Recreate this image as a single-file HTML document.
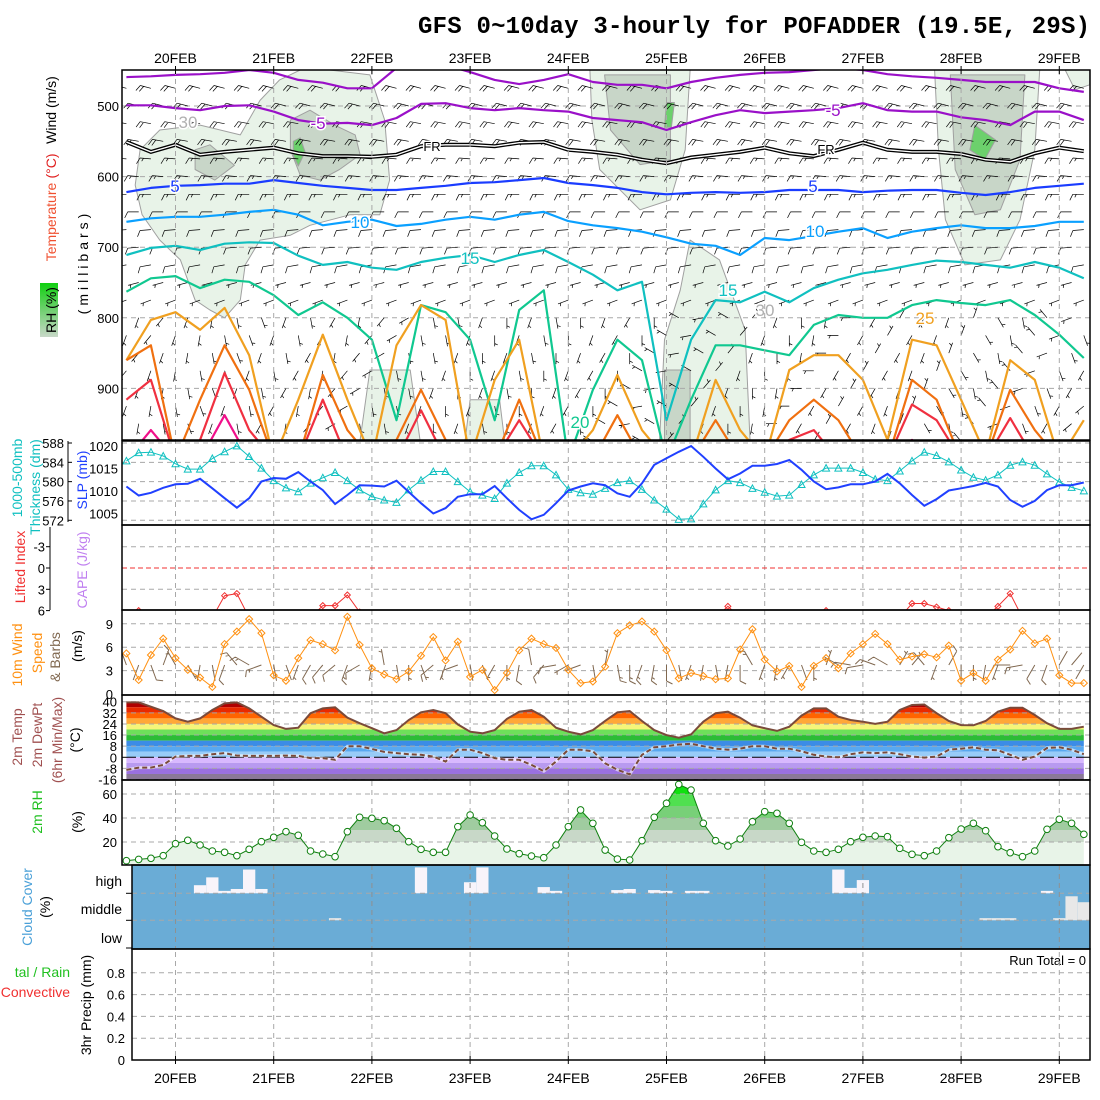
<!DOCTYPE html>
<html><head><meta charset="utf-8"><title>GFS meteogram POFADDER</title>
<style>
html,body{margin:0;padding:0;background:#fff;}
svg{display:block;}
text{font-family:"Liberation Sans",sans-serif;}
</style></head>
<body>
<svg id="chart" width="1100" height="1100" viewBox="0 0 1100 1100" xmlns="http://www.w3.org/2000/svg">
<defs>
<clipPath id="c1"><rect x="122" y="70" width="968" height="370"/></clipPath>
<clipPath id="c2"><rect x="122" y="441" width="968" height="84"/></clipPath>
<clipPath id="c3"><rect x="122" y="525" width="968" height="85"/></clipPath>
<clipPath id="c4"><rect x="122" y="610" width="968" height="85"/></clipPath>
<clipPath id="c5"><rect x="122" y="695" width="968" height="85"/></clipPath>
<clipPath id="c6"><rect x="122" y="780" width="968" height="85"/></clipPath>
<clipPath id="c8"><rect x="132" y="949" width="958" height="111"/></clipPath>
<linearGradient id="rhg" x1="0" y1="1" x2="0" y2="0"><stop offset="0" stop-color="#c8d8c8"/><stop offset="0.5" stop-color="#70d070"/><stop offset="1" stop-color="#10d010"/></linearGradient>
</defs>
<rect x="0" y="0" width="1100" height="1100" fill="#fff"/>
<text x="418" y="33" font-family="Liberation Mono, monospace" font-weight="bold" font-size="24" textLength="672" style="font-family:'Liberation Mono',monospace">GFS 0~10day 3-hourly for POFADDER (19.5E, 29S)</text>

<rect x="40" y="283" width="18" height="54" fill="url(#rhg)"/>
<text transform="translate(56,310) rotate(-90)" text-anchor="middle" font-size="14" fill="#000">RH (%)</text>
<text transform="translate(56,222) rotate(-90)" text-anchor="middle" font-size="14" fill="#f05030">Temperature</text>
<text transform="translate(56,166) rotate(-90)" text-anchor="middle" font-size="14" fill="#e02020">(°C)</text>
<text transform="translate(56,110) rotate(-90)" text-anchor="middle" font-size="14" fill="#000">Wind (m/s)</text>
<text transform="translate(88,262) rotate(-90)" text-anchor="middle" font-size="14" letter-spacing="4" fill="#000">(millibars)</text>
<text transform="translate(22,478) rotate(-90)" text-anchor="middle" font-size="14" fill="#10c0c0">1000-500mb</text>
<text transform="translate(40,487) rotate(-90)" text-anchor="middle" font-size="14" fill="#10c0c0">Thickness (dm)</text>
<text transform="translate(87,480) rotate(-90)" text-anchor="middle" font-size="14" fill="#2040ff">SLP (mb)</text>
<text transform="translate(25,567) rotate(-90)" text-anchor="middle" font-size="14" fill="#f03030">Lifted Index</text>
<text transform="translate(87,570) rotate(-90)" text-anchor="middle" font-size="14" fill="#c080f0">CAPE (J/kg)</text>
<text transform="translate(22,655) rotate(-90)" text-anchor="middle" font-size="14" fill="#ff9010">10m Wind</text>
<text transform="translate(42,653) rotate(-90)" text-anchor="middle" font-size="14" fill="#ff9010">Speed</text>
<text transform="translate(60,657) rotate(-90)" text-anchor="middle" font-size="14" fill="#806850">&amp; Barbs</text>
<text transform="translate(82,646) rotate(-90)" text-anchor="middle" font-size="14" fill="#000">(m/s)</text>
<text transform="translate(22,737) rotate(-90)" text-anchor="middle" font-size="14" fill="#a05050">2m Temp</text>
<text transform="translate(42,735) rotate(-90)" text-anchor="middle" font-size="14" fill="#a05050">2m DewPt</text>
<text transform="translate(62,740) rotate(-90)" text-anchor="middle" font-size="14" fill="#a05050">(6hr Min/Max)</text>
<text transform="translate(80,740) rotate(-90)" text-anchor="middle" font-size="14" fill="#000">(°C)</text>
<text transform="translate(42,812) rotate(-90)" text-anchor="middle" font-size="14" fill="#20c020">2m RH</text>
<text transform="translate(82,822) rotate(-90)" text-anchor="middle" font-size="14" fill="#000">(%)</text>
<text transform="translate(32,907) rotate(-90)" text-anchor="middle" font-size="14" fill="#4aa0d8">Cloud Cover</text>
<text transform="translate(50,907) rotate(-90)" text-anchor="middle" font-size="14" fill="#000">(%)</text>
<text x="122" y="886" text-anchor="end" font-size="14">high</text>
<text x="122" y="914" text-anchor="end" font-size="14">middle</text>
<text x="122" y="943" text-anchor="end" font-size="14">low</text>
<text x="70" y="977" text-anchor="end" font-size="14" fill="#20c020">tal / Rain</text>
<text x="70" y="997" text-anchor="end" font-size="14" fill="#f03030">Convective</text>
<text transform="translate(91,1005) rotate(-90)" text-anchor="middle" font-size="14" fill="#000">3hr Precip (mm)</text>
<text x="1086" y="965" text-anchor="end" font-size="13">Run Total = 0</text>
</svg>
<script>
const tStart = -0.5;
const tStep = 0.125;
const dayLabels = ['20FEB','21FEB','22FEB','23FEB','24FEB','25FEB','26FEB','27FEB','28FEB','29FEB'];
const pressureTicks = [500,600,700,800,900];
const thicknessTicks = [588,584,580,576,572];
const slpTicks = [1020,1015,1010,1005];
const liTicks = [-3,0,3,6];
const windTicks = [0,3,6,9];
const tempTicks = [40,32,24,16,8,0,-8,-16];
const rhTicks = [20,40,60];
const precipTicks = [0,0.2,0.4,0.6,0.8];

const thickness = [584.3,586.0,586.1,585.3,583.7,582.6,582.6,584.8,586.2,587.4,585.2,582.8,580.2,578.7,577.9,579.7,580.8,581.9,580.2,578.3,576.9,576.2,575.7,578.3,580.3,582.1,582.1,580.0,577.9,577.2,576.5,579.7,581.9,583.3,583.3,581.4,578.4,577.7,577.4,578.6,579.8,580.2,578.4,576.2,574.3,572.2,572.3,575.4,578.3,580.2,579.8,578.6,577.8,577.0,577.2,579.4,581.4,582.8,582.8,582.8,581.9,580.5,580.2,582.2,584.3,586.1,585.4,584.1,582.4,580.9,580.3,581.4,583.4,584.1,583.4,581.6,579.9,578.8,578.1];
const slp = [1011.0,1009.0,1009.6,1010.7,1011.5,1011.6,1012.7,1010.6,1008.4,1006.3,1008.4,1012.1,1012.9,1012.7,1014.2,1012.1,1010.2,1007.1,1009.1,1011.3,1011.2,1011.0,1012.3,1009.8,1007.3,1005.0,1006.2,1008.7,1009.3,1009.3,1011.1,1008.4,1005.8,1003.7,1004.7,1007.3,1010.1,1011.0,1011.7,1011.3,1009.5,1008.7,1011.7,1015.8,1017.3,1018.7,1020.0,1017.6,1015.0,1012.6,1013.9,1015.6,1015.6,1016.0,1016.9,1014.7,1012.1,1010.4,1010.8,1011.5,1011.5,1012.1,1013.8,1011.7,1009.1,1006.7,1008.2,1010.1,1010.6,1011.1,1011.8,1011.0,1008.0,1006.5,1007.8,1010.2,1011.3,1011.3,1011.9];
const liftedIndex = [9,6.0,9,9,9,9,9,7,3.9,3.6,7,9,9,9,9,7,5.3,5.3,3.8,6.2,9,9,9,9,9,9,9,9,9,9,9,9,9,9,9,9,9,9,9,9,9,9,9,9,9,9,9,9,7,5.4,7,9,9,9,9,9,9,6.0,9,9,9,9,9,7,5.0,5.0,5.5,6.0,9,9,7,5.4,3.6,7,9,9,9,9,9];
const windSpeed10m = [5.2,1.8,5.0,7.1,4.6,3.1,2.1,0.9,6.4,8.0,9.6,7.8,2.4,1.7,4.6,6.9,6.4,5.6,9.9,6.3,3.3,2.5,1.9,2.9,4.9,7.3,4.3,6.7,2.2,3.1,0.5,2.7,5.6,7.1,6.4,5.9,3.1,1.4,1.6,3.5,7.8,8.8,9.3,8.0,5.6,2.0,2.7,2.3,1.9,2.0,5.7,8.3,4.4,2.9,3.6,0.9,3.6,4.6,3.3,5.2,6.4,7.7,6.4,4.4,4.8,5.1,4.7,6.2,1.7,2.7,1.7,4.4,5.7,8.1,6.5,7.1,2.4,1.4,1.4];
const windDir10m = [340,200,160,20,330,150,190,170,200,320,300,250,170,160,200,210,220,230,200,240,190,350,170,180,160,230,200,250,170,160,210,180,190,350,220,260,240,250,170,10,170,180,200,190,180,170,200,190,170,190,180,330,200,190,210,160,180,20,300,280,260,290,300,30,40,320,200,30,180,180,190,200,270,260,210,200,30,40,210];
const temp2m = [39.5,39.5,36.4,33.3,28,25.6,28,34,38.8,39.5,35.2,29.2,23.2,20.4,21.3,31.7,35.2,36,28.5,24.5,20.9,17.3,19.6,26.8,32.4,34,31.7,23.7,18.4,17.3,19.6,27.6,32.8,34,29.2,21.3,18.4,16.5,19.6,26.2,32.4,33.3,26.1,19.6,16,14.1,16.5,25.6,31.7,32.8,28.5,23,20.9,19,22,30,35.2,35.2,29.2,26.8,25.6,24,25.6,34,37.6,38,31.7,26.1,23.2,23,26.1,32.8,35.7,35.7,30.4,24.5,20.4,20.4,22];
const dewpt2m = [-9.1,-7.4,-7.4,-5.5,0.5,1,1,2.2,3,1.2,1,1,1,1.2,1,-0.6,-0.6,-1.8,8,8,6,3.9,3,2.2,1.8,0.5,-3.1,5.5,5.5,3,-0.6,-1.8,-1.8,-5.5,-10,-3.1,5.5,5.5,4.3,-4.3,-9,-12.3,1.8,7.2,8,9.2,9.7,8,6.2,5.5,6.2,8,8,6.2,6.2,4.3,1.8,0.5,0,2.2,3.5,3,3.5,2.2,0.5,-0.2,0.5,5.5,6.2,7.2,5.5,5,1.8,-1.8,0.5,6.7,7.2,5.5,2.2];
const rh2m = [4.4,5.5,6.4,8.6,18.6,21.4,17.5,12.5,11.4,8.6,13.9,20.3,23.9,28.6,25.6,12.5,10,7.8,28.6,40.6,39.7,37.8,31.4,20.3,13.9,11.4,11.4,32.8,42.5,36.1,25,14.2,10.3,8.3,6.9,17.5,32.8,46.7,35.6,13.3,5.8,5,21.1,40.6,52.2,68,63.3,35.6,21.1,16.7,22.5,36.9,45.3,43.9,35.6,19.7,12.5,11.4,13.9,20.3,23.9,25,24.4,14.7,9.7,8.6,12.5,23.6,30.8,35.6,29.4,16.1,11.1,7.8,12.5,30.6,38.9,35.6,26.4];
const cloudHigh = [0,0,0,0,0,0,30,59,9,16,88,16,0,0,0,0,0,0,0,0,0,0,0,0,96,0,0,0,41,96,0,0,0,0,23,9,0,0,0,0,12,16,0,12,9,0,9,9,0,0,0,0,0,0,0,0,0,0,88,20,49,0,0,0,0,0,0,0,0,0,0,0,0,0,0,9,0,0,0];
const cloudMid = [0,0,0,0,0,0,0,0,0,0,0,0,0,0,0,0,0,8,0,0,0,0,0,0,0,0,0,0,0,0,0,0,0,0,0,0,0,0,0,0,0,0,0,0,0,0,0,0,0,0,0,0,0,0,0,0,0,0,0,0,0,0,0,0,0,0,0,0,0,0,8,8,8,0,0,0,8,89,67];
const cloudLow = [0,0,0,0,0,0,0,0,0,0,0,0,0,0,0,0,0,0,0,0,0,0,0,0,0,0,0,0,0,0,0,0,0,0,0,0,0,0,0,0,0,0,0,0,0,0,0,0,0,0,0,0,0,0,0,0,0,0,0,0,0,0,0,0,0,0,0,0,0,0,0,0,0,0,0,0,0,0,0];
const precip3h = [0,0,0,0,0,0,0,0,0,0,0,0,0,0,0,0,0,0,0,0,0,0,0,0,0,0,0,0,0,0,0,0,0,0,0,0,0,0,0,0,0,0,0,0,0,0,0,0,0,0,0,0,0,0,0,0,0,0,0,0,0,0,0,0,0,0,0,0,0,0,0,0,0,0,0,0,0,0,0];

const contourStep = 0.25;
const isoM10 = [459,458,456,455,453,449,453,463,467,475,475,446,442,442,452,463,469,463,455,466,470,470,475,466,460,456,453,452,449,446,449,455,458,460,463,466,466,466,475,480];
const isoM5 = [499,499,503,506,500,499,508,520,525,524,527,517,497,496,503,506,503,506,508,517,520,523,534,523,513,506,510,508,506,503,496,506,508,508,516,520,527,508,508,520];
const isoFR = [551,565,555,569,565,562,559,567,571,571,572,569,557,555,555,557,552,551,562,565,569,576,581,573,569,565,559,567,571,562,552,562,565,565,568,576,579,567,559,564];
const iso5 = [622,616,613,612,610,610,605,609,613,616,619,619,616,613,609,608,605,602,609,612,616,622,625,623,622,623,622,619,619,619,622,620,619,619,623,626,622,616,613,610];
const iso10 = [664,659,657,657,654,650,647,654,669,664,661,670,667,661,657,661,654,650,663,669,673,678,686,695,698,711,687,690,684,678,673,687,678,673,669,673,673,670,664,664];
const iso15 = [711,701,698,704,695,693,694,712,725,721,729,732,721,715,711,721,711,704,721,739,761,749,945,831,775,778,763,778,758,746,737,732,725,719,721,725,729,721,729,744];
const iso20 = [763,744,741,758,746,749,768,796,778,800,831,945,782,792,831,945,789,761,1001,902,831,860,1001,916,839,839,846,853,810,796,800,800,782,775,779,782,775,796,824,857];
const iso25 = [860,803,792,817,786,853,1001,916,824,916,1001,839,782,803,1001,888,831,1001,1001,959,881,959,1001,1001,888,959,1001,874,853,853,888,973,831,839,916,994,860,888,1001,945];
const iso30 = [860,839,1001,916,839,902,1001,1001,881,959,1001,973,902,973,1001,1001,916,1001,1001,1001,938,1001,1001,1001,945,1001,1001,945,916,945,1001,1001,888,916,1001,1001,902,959,1001,1001];
const iso35 = [916,888,1001,973,878,959,1001,1001,916,1001,1001,1001,931,1001,1001,1001,945,1001,1001,1001,1001,1001,1001,1001,1001,1001,1001,973,959,1001,1001,1001,923,945,1001,1001,942,1001,1001,1001];
const iso40 = [1001,959,1001,1001,938,1001,1001,1001,1001,1001,1001,1001,1001,1001,1001,1001,1001,1001,1001,1001,1001,1001,1001,1001,1001,1001,1001,1001,1001,1001,1001,1001,973,1001,1001,1001,1001,1001,1001,1001];

const barbLevels = [475,500,525,550,575,600,625,650,675,700,725,750,775,800,825,850,875,900,925,950,975];
const barbSpeed = [22,22,20,20,18,16,15,14,12,11,10,9,8,7,7,6,6,6,6,5,5];
const barbDir = [285,285,280,280,275,275,270,270,265,265,260,255,250,0,0,0,0,0,0,0,0];

const rhLight1 = [[-0.36,562],[-0.16,534],[0.25,527],[0.66,541],[0.86,492],[1.06,463],[1.27,449],[1.57,449],[1.98,456],[2.13,520],[2.18,605],[2.08,654],[1.78,654],[1.37,669],[1.17,683],[0.86,690],[0.71,725],[0.66,775],[0.5,800],[0.35,789],[0.2,775],[0.05,718],[-0.16,690],[-0.34,654],[-0.41,612]];
const rhLight2 = [[4.22,449],[5.24,449],[5.19,562],[5.04,633],[4.73,647],[4.32,590],[4.24,520]];
const rhLight3 = [[7.73,449],[8.8,449],[8.75,562],[8.6,661],[8.4,718],[8.04,725],[7.84,661],[7.77,562]];
const rhLight4 = [[5.24,690],[5.54,718],[5.8,817],[5.85,973],[4.93,973],[4.98,831],[5.14,761]];
const rhLight5 = [[9.06,449],[9.31,449],[9.31,470],[9.16,477]];
const rhLight6 = [[1.98,874],[2.39,874],[2.49,973],[1.88,973]];
const rhLight7 = [[3.0,916],[3.3,916],[3.35,973],[2.95,973]];
const rhDark1 = [[1.17,520],[1.37,506],[1.62,527],[1.83,541],[1.88,569],[1.67,590],[1.47,605],[1.27,598],[1.17,562]];
const rhDark2 = [[0.2,562],[0.35,555],[0.6,584],[0.4,605],[0.2,590]];
const rhDark3 = [[4.37,456],[5.04,456],[5.04,576],[4.73,583],[4.43,534]];
const rhDark4 = [[7.89,456],[8.65,456],[8.6,576],[8.4,647],[8.14,654],[7.94,590]];
const rhDark5 = [[4.98,874],[5.24,874],[5.24,973],[4.98,973]];
const rhWet1 = [[1.2,550],[1.27,545],[1.32,565],[1.25,585],[1.2,570]];
const rhWet2 = [[5.0,495],[5.08,495],[5.05,530],[4.98,530]];
const rhWet3 = [[8.14,527],[8.35,548],[8.24,576],[8.09,562]];

const NS = 'http://www.w3.org/2000/svg';
const svg = document.getElementById('chart');
function mk(tag, attrs, parent) {
  const e = document.createElementNS(NS, tag);
  for (const k in attrs) e.setAttribute(k, attrs[k]);
  (parent || svg).appendChild(e);
  return e;
}
const X = t => 175.5 + t * 98.2;
const tAt = i => tStart + i * tStep;
const tcAt = i => tStart + i * contourStep;
const yP = p => 106 + (p - 500) * 0.706;
const yThick = v => 443 + (588 - v) * 4.83;
const ySlp = v => 446 + (1020 - v) * 4.5;
const yLI = v => 568 + v * 7.1;
const yWind = v => 694 - v * 7.8;
const yTemp = v => 757.3 - v * 1.39;
const yRH = v => 866 - v * 1.2;
const yPrecip = v => 1060 - v * 109;
function pathOf(arr, yf, tf) {
  return arr.map((v, i) => (i ? 'L' : 'M') + X(tf(i)).toFixed(1) + ',' + yf(v).toFixed(1)).join('');
}
const GRID = '#a8a8a8';
function hGrid(g, y, x0) {
  const l = mk('line', {x1: x0 || 122, x2: 1090, y1: y, y2: y, stroke: GRID, 'stroke-dasharray': '5,4', 'stroke-width': 1}, g);
  
  
}

const g1 = mk('g', {'clip-path': 'url(#c1)'});


function blob(pts, fill, name) {
  const d = pts.map((q, i) => (i ? 'L' : 'M') + X(q[0]).toFixed(1) + ',' + yP(q[1]).toFixed(1)).join('') + 'Z';
  const b = mk('path', {d: d, fill: fill, stroke: '#a0a0a0', 'stroke-width': 1, 'stroke-linejoin': 'round'}, g1);
  
  
}
[rhLight1, rhLight2, rhLight3, rhLight4, rhLight5, rhLight6, rhLight7].forEach(b => blob(b, '#e8f3e8', 'rh-region-light'));
[rhDark1, rhDark2, rhDark3, rhDark4, rhDark5].forEach(b => blob(b, '#c8d6c8', 'rh-region-moist'));
[rhWet1, rhWet2, rhWet3].forEach(b => blob(b, '#6cd06c', 'rh-region-wet'));
pressureTicks.forEach(p => hGrid(g1, yP(p)));
for (let k = 0; k < dayLabels.length; k++) {
  const l = mk('line', {x1: X(k), x2: X(k), y1: 70, y2: 1060, stroke: GRID, 'stroke-dasharray': '5,4'}, svg);
  
  
}
function barbPath(x, y, dir, spd, len, fl) {
  const r = dir * Math.PI / 180, dx = Math.sin(r), dy = -Math.cos(r);
  const x2 = x + dx * len, y2 = y + dy * len;
  let d = 'M' + x.toFixed(1) + ',' + y.toFixed(1) + 'L' + x2.toFixed(1) + ',' + y2.toFixed(1);
  const px = dy, py = -dx;
  let full = Math.floor(spd / 10), half = (spd % 10) >= 5 ? 1 : 0, pos = 0;
  for (let k = 0; k < full; k++) {
    const bx = x2 - dx * pos, by = y2 - dy * pos;
    d += 'M' + bx.toFixed(1) + ',' + by.toFixed(1) + 'L' + (bx + px * fl + dx * 3).toFixed(1) + ',' + (by + py * fl + dy * 3).toFixed(1);
    pos += 3.5;
  }
  if (half) {
    if (full === 0) pos = 3;
    const bx = x2 - dx * pos, by = y2 - dy * pos;
    d += 'M' + bx.toFixed(1) + ',' + by.toFixed(1) + 'L' + (bx + px * fl * 0.5 + dx * 1.5).toFixed(1) + ',' + (by + py * fl * 0.5 + dy * 1.5).toFixed(1);
  }
  return d;
}
let ud = '';
for (let li = 0; li < barbLevels.length; li++) {
  for (let i = (li % 2); i < thickness.length; i += 2) {
    const dir = barbDir[li] || windDir10m[(i + li) % windDir10m.length];
    ud += barbPath(X(tAt(i)), yP(barbLevels[li]), dir, barbSpeed[li], 11, 6);
  }
}
const ub = mk('path', {d: ud, stroke: '#000', 'stroke-width': 0.7, fill: 'none'}, g1);


const isoSeries = [
  [isoM10, '#9a10c8', 'isotherm-minus10'], [isoM5, '#9a10c8', 'isotherm-minus5'],
  [iso5, '#1a3cff', 'isotherm-5'], [iso10, '#0aa0ff', 'isotherm-10'], [iso15, '#10c0c0', 'isotherm-15'],
  [iso20, '#10c890', 'isotherm-20'], [iso25, '#f0a020', 'isotherm-25'], [iso30, '#f07010', 'isotherm-30'],
  [iso35, '#f03040', 'isotherm-35'], [iso40, '#f0108a', 'isotherm-40']];
isoSeries.forEach(s => {
  const p = mk('path', {d: pathOf(s[0], yP, tcAt), stroke: s[1], 'stroke-width': 2.2, fill: 'none', 'stroke-linejoin': 'round'}, g1);
  
  
});
const fr1 = mk('path', {d: pathOf(isoFR, yP, tcAt), stroke: '#000', 'stroke-width': 4, fill: 'none'}, g1);


const fr2 = mk('path', {d: pathOf(isoFR, yP, tcAt), stroke: '#fff', 'stroke-width': 1.3, fill: 'none'}, g1);


const isoLabels = [['-5',318,129,'#9a10c8'],['-5',833,116,'#9a10c8'],['FR',432,151,'#000'],['FR',826,154,'#000'],['5',175,192,'#1a3cff'],['5',813,192,'#1a3cff'],['10',360,228,'#0aa0ff'],['10',815,237,'#0aa0ff'],['15',470,264,'#10c0c0'],['15',728,296,'#10c0c0'],['20',580,428,'#10c890'],['25',925,324,'#f0a020'],['30',188,128,'#b0b0b0'],['30',765,316,'#b0b0b0']];
isoLabels.forEach(l => {
  const t = mk('text', {x: l[1], y: l[2], fill: l[3], 'font-size': l[0] === 'FR' ? 13 : 17, 'text-anchor': 'middle', stroke: '#fff', 'stroke-width': 3, 'paint-order': 'stroke'}, g1);
  t.textContent = l[0];
  
  
});
pressureTicks.forEach(p => {
  const t = mk('text', {x: 119, y: yP(p) + 5, 'text-anchor': 'end', 'font-size': 13});
  t.textContent = p;
  
  
});
dayLabels.forEach((d, k) => {
  const t = mk('text', {x: X(k), y: 63, 'text-anchor': 'middle', 'font-size': 14});
  t.textContent = d;
  
  
  const b = mk('text', {x: X(k), y: 1083, 'text-anchor': 'middle', 'font-size': 14});
  b.textContent = d;
  
  
});

const g2 = mk('g', {'clip-path': 'url(#c2)'});


thicknessTicks.forEach(v => hGrid(g2, yThick(v)));
const thk = mk('path', {d: pathOf(thickness, yThick, tAt), stroke: '#10c0c0', 'stroke-width': 1, fill: 'none'}, g2);


thickness.forEach((v, i) => {
  const x = X(tAt(i)), y = yThick(v);
  const m = mk('path', {d: `M${x - 3.5},${y + 3}L${x},${y - 3.5}L${x + 3.5},${y + 3}Z`, stroke: '#10c0c0', fill: 'none', 'stroke-width': 1}, g2);
  
  
});
const sl = mk('path', {d: pathOf(slp, ySlp, tAt), stroke: '#2040ff', 'stroke-width': 2, fill: 'none'}, g2);


const ax2 = mk('line', {x1: 68, x2: 68, y1: 441, y2: 522, stroke: '#000'});


thicknessTicks.forEach(v => {
  const t = mk('text', {x: 64, y: yThick(v) + 5, 'text-anchor': 'end', 'font-size': 13});
  t.textContent = v;
  
  
  const tk = mk('line', {x1: 68, x2: 72, y1: yThick(v), y2: yThick(v), stroke: '#000'});
  
  
});
slpTicks.forEach(v => {
  const t = mk('text', {x: 118, y: ySlp(v) + 5, 'text-anchor': 'end', 'font-size': 13});
  t.textContent = v;
  
  
});

const g3 = mk('g', {'clip-path': 'url(#c3)'});


[-3, 3].forEach(v => hGrid(g3, yLI(v)));
const zl = mk('line', {x1: 122, x2: 1090, y1: yLI(0), y2: yLI(0), stroke: '#f03030', 'stroke-dasharray': '5,3'}, g3);


const lil = mk('path', {d: pathOf(liftedIndex, yLI, tAt), stroke: '#f03030', 'stroke-width': 1, fill: 'none'}, g3);


liftedIndex.forEach((v, i) => {
  if (v > 6.5) return;
  const x = X(tAt(i)), y = yLI(v);
  const m = mk('path', {d: `M${x},${y - 3}L${x + 3},${y}L${x},${y + 3}L${x - 3},${y}Z`, stroke: '#f03030', fill: 'none'}, g3);
  
  
});
const ax3 = mk('line', {x1: 50, x2: 50, y1: 527, y2: 610, stroke: '#000'});


liTicks.forEach(v => {
  const t = mk('text', {x: 45, y: yLI(v) + 5, 'text-anchor': 'end', 'font-size': 13});
  t.textContent = v;
  
  
  const tk = mk('line', {x1: 46, x2: 50, y1: yLI(v), y2: yLI(v), stroke: '#000'});
  
  
});

const g4 = mk('g', {'clip-path': 'url(#c4)'});


[3, 6, 9].forEach(v => hGrid(g4, yWind(v)));
let wd = '';
windSpeed10m.forEach((v, i) => { wd += barbPath(X(tAt(i)), 665, windDir10m[i], v * 2, 16, 6); });
const wb = mk('path', {d: wd, stroke: '#806850', 'stroke-width': 1, fill: 'none'}, g4);


const wl = mk('path', {d: pathOf(windSpeed10m, yWind, tAt), stroke: '#ff9010', 'stroke-width': 1, fill: 'none'}, g4);


windSpeed10m.forEach((v, i) => {
  const x = X(tAt(i)), y = yWind(v);
  const m = mk('path', {d: `M${x},${y - 3.5}L${x + 3.5},${y}L${x},${y + 3.5}L${x - 3.5},${y}Z`, stroke: '#ff9010', fill: 'none'}, g4);
  
  
});
windTicks.forEach(v => {
  const t = mk('text', {x: 113, y: yWind(v) + 5, 'text-anchor': 'end', 'font-size': 13});
  t.textContent = v;
  
  
});

const g5 = mk('g', {'clip-path': 'url(#c5)'});


const tempBandTops = [48,36,32,28,24,20,16,12,8,4,0,-4,-8,-12];
const tempBandColors = ['#b00000','#e82a00','#ff6400','#ffa838','#f5f57a','#6ee05a','#2cbc36','#3c8ce6','#58a8f0','#98ccf8','#d8b8ff','#b89af0','#9a70e0','#8a7898'];
const cp = mk('clipPath', {id: 'tempFill'}, svg.querySelector('defs'));
const tfd = pathOf(temp2m, yTemp, tAt) + 'L' + X(tAt(temp2m.length - 1)) + ',780L' + X(tAt(0)) + ',780Z';
mk('path', {d: tfd}, cp);
const tb = mk('g', {'clip-path': 'url(#tempFill)'}, g5);


tempBandTops.forEach((top, k) => {
  const bottom = k < tempBandTops.length - 1 ? tempBandTops[k + 1] : -20;
  const r = mk('rect', {x: 122, width: 968, y: yTemp(top), height: yTemp(bottom) - yTemp(top), fill: tempBandColors[k]}, tb);
  
  
});
tempTicks.forEach(v => { if (v !== 0) hGrid(g5, yTemp(v)); });
const z5 = mk('line', {x1: 122, x2: 1090, y1: yTemp(0), y2: yTemp(0), stroke: '#000', 'stroke-dasharray': '14,4'}, g5);


const tl = mk('path', {d: pathOf(temp2m, yTemp, tAt), stroke: '#7a4a3a', 'stroke-width': 2, fill: 'none'}, g5);


const dl0 = mk('path', {d: pathOf(dewpt2m, yTemp, tAt), stroke: '#fff', 'stroke-width': 3, fill: 'none', opacity: 0.6}, g5);


const dl = mk('path', {d: pathOf(dewpt2m, yTemp, tAt), stroke: '#7a4a3a', 'stroke-width': 2, 'stroke-dasharray': '5,3', fill: 'none'}, g5);


tempTicks.forEach(v => {
  const t = mk('text', {x: 117, y: yTemp(v) + 5, 'text-anchor': 'end', 'font-size': 13});
  t.textContent = v;
  
  
});

const g6 = mk('g', {'clip-path': 'url(#c6)'});


const rhBandTops = [100,60,50,40,30,20];
const rhBandColors = ['#10e010','#50e050','#78d078','#a0cca0','#c8d8c8','#e8f4e8'];
const cp6 = mk('clipPath', {id: 'rhFill'}, svg.querySelector('defs'));
const rfd = pathOf(rh2m, yRH, tAt) + 'L' + X(tAt(rh2m.length - 1)) + ',866L' + X(tAt(0)) + ',866Z';
mk('path', {d: rfd}, cp6);
const rb = mk('g', {'clip-path': 'url(#rhFill)'}, g6);


rhBandTops.forEach((top, k) => {
  const bottom = k < rhBandTops.length - 1 ? rhBandTops[k + 1] : 0;
  const r = mk('rect', {x: 122, width: 968, y: yRH(top), height: yRH(bottom) - yRH(top), fill: rhBandColors[k]}, rb);
  
  
});
rhTicks.forEach(v => hGrid(g6, yRH(v)));
const rl = mk('path', {d: pathOf(rh2m, yRH, tAt), stroke: '#108010', 'stroke-width': 1, fill: 'none'}, g6);


rh2m.forEach((v, i) => {
  const c = mk('circle', {cx: X(tAt(i)), cy: yRH(v), r: 3.3, stroke: '#108010', fill: '#fff'}, g6);
  
  
});
rhTicks.forEach(v => {
  const t = mk('text', {x: 117, y: yRH(v) + 5, 'text-anchor': 'end', 'font-size': 13});
  t.textContent = v;
  
  
});

const g7 = mk('g', {});


const cbg = mk('rect', {x: 132, y: 865, width: 958, height: 84, fill: '#6aacd6'}, g7);


const layerBase = [893.3, 920.3, 948.5];
const layerH = 27;
[[cloudHigh, '#f8f4fa', 'cloud-high-bar'], [cloudMid, '#e8e8e8', 'cloud-middle-bar'], [cloudLow, '#e8e8e8', 'cloud-low-bar']].forEach((s, li) => {
  s[0].forEach((v, i) => {
    if (!v) return;
    const h = v / 100 * layerH;
    const x0 = X(tAt(i) - tStep / 2), x1 = X(tAt(i) + tStep / 2);
    const r = mk('rect', {x: x0, width: x1 - x0, y: layerBase[li] - h, height: h, fill: s[1]}, g7);
    
    
  });
});
[893.3, 920.3].forEach(y => hGrid(g7, y, 132));
[865, 893.3, 920.3, 948].forEach(y => {
  const tk = mk('line', {x1: 126, x2: 132, y1: y, y2: y, stroke: '#000'});
  
  
});
for (let k = 0; k < dayLabels.length; k++) {
  const l = mk('line', {x1: X(k), x2: X(k), y1: 865, y2: 949, stroke: '#909090', 'stroke-dasharray': '5,4'}, g7);
  
  
}

const g8 = mk('g', {'clip-path': 'url(#c8)'});


precipTicks.forEach(v => { if (v > 0) hGrid(g8, yPrecip(v), 132); });
precip3h.forEach((v, i) => {
  if (!v) return;
  const x0 = X(tAt(i) - tStep / 2), x1 = X(tAt(i) + tStep / 2);
  const r = mk('rect', {x: x0, width: x1 - x0, y: yPrecip(v), height: 1060 - yPrecip(v), fill: '#20c020'}, g8);
  
  
});
precipTicks.forEach(v => {
  const t = mk('text', {x: 125, y: yPrecip(v) + 5, 'text-anchor': 'end', 'font-size': 13});
  t.textContent = v;
  
  
});

const frames = [[122,70,968,370],[122,441,968,84],[122,525,968,85],[122,610,968,85],[122,695,968,85],[122,780,968,85],[132,865,958,84],[132,949,958,111]];
frames.forEach(f => {
  const r = mk('rect', {x: f[0], y: f[1], width: f[2], height: f[3], fill: 'none', stroke: '#000', 'stroke-width': 1.5});
  
  
});
for (let k = 0; k < dayLabels.length; k++) {
  const a = mk('line', {x1: X(k), x2: X(k), y1: 66, y2: 74, stroke: '#000'});
  
  
  const b = mk('line', {x1: X(k), x2: X(k), y1: 1056, y2: 1064, stroke: '#000'});
  
  
}
</script>
</body></html>
